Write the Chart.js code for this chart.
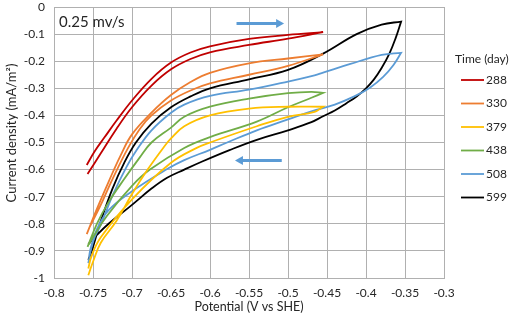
<!DOCTYPE html>
<html>
<head>
<meta charset="utf-8">
<script src="https://cdn.jsdelivr.net/npm/chart.js"></script>
<style>
  html, body { margin: 0; padding: 0; background: #fff; }
  #wrap { width: 512px; height: 315px; }
</style>
</head>
<body>
<div id="wrap"><canvas id="cv" width="512" height="315"></canvas></div>
<script>
// Time in days, one CV loop per series (upper branch left->vertex, then lower branch back)
const days = ['288', '330', '379', '438', '508', '599'];
const colors = ['#C00000', '#ED7D31', '#FFC000', '#70AD47', '#5B9BD5', '#000000'];

// potential (V vs SHE) and current density (mA/m2)
// the switching vertex is listed twice so the tip stays sharp
const e288 = [-0.758, -0.748, -0.735, -0.720, -0.700, -0.675, -0.650, -0.625, -0.600, -0.550, -0.500, -0.455,
              -0.455, -0.500, -0.550, -0.600, -0.625, -0.650, -0.675, -0.700, -0.720, -0.740, -0.757];
const j288 = [-0.583, -0.533, -0.480, -0.420, -0.345, -0.265, -0.205, -0.168, -0.145, -0.118, -0.103, -0.093,
              -0.093, -0.117, -0.140, -0.167, -0.192, -0.230, -0.290, -0.370, -0.450, -0.540, -0.616];

const e330 = [-0.758, -0.745, -0.730, -0.715, -0.700, -0.675, -0.650, -0.625, -0.600, -0.550, -0.500, -0.455,
              -0.455, -0.500, -0.550, -0.600, -0.625, -0.650, -0.675, -0.690, -0.705, -0.725, -0.740, -0.754];
const j330 = [-0.838, -0.745, -0.645, -0.550, -0.470, -0.390, -0.325, -0.277, -0.243, -0.208, -0.190, -0.175,
              -0.175, -0.217, -0.250, -0.282, -0.308, -0.345, -0.400, -0.450, -0.520, -0.635, -0.730, -0.810];

const e379 = [-0.756, -0.750, -0.740, -0.720, -0.700, -0.680, -0.660, -0.650, -0.633, -0.600, -0.550, -0.500, -0.455,
              -0.455, -0.466, -0.500, -0.540, -0.600, -0.617, -0.650, -0.700, -0.740, -0.752, -0.756];
const j379 = [-0.990, -0.940, -0.870, -0.790, -0.690, -0.600, -0.520, -0.485, -0.440, -0.400, -0.375, -0.368, -0.368,
              -0.368, -0.387, -0.405, -0.440, -0.500, -0.520, -0.575, -0.710, -0.850, -0.920, -0.965];

const e438 = [-0.757, -0.745, -0.730, -0.710, -0.690, -0.675, -0.650, -0.633, -0.600, -0.550, -0.500, -0.470, -0.455,
              -0.455, -0.470, -0.500, -0.540, -0.600, -0.633, -0.677, -0.700, -0.732, -0.750, -0.755];
const j438 = [-0.885, -0.800, -0.720, -0.635, -0.555, -0.500, -0.445, -0.405, -0.368, -0.338, -0.318, -0.313, -0.317,
              -0.317, -0.335, -0.370, -0.423, -0.480, -0.520, -0.600, -0.660, -0.770, -0.850, -0.875];

const e508 = [-0.756, -0.753, -0.748, -0.741, -0.724, -0.707, -0.694, -0.675, -0.650, -0.633, -0.600, -0.550, -0.500, -0.466, -0.455, -0.420, -0.380, -0.355,
              -0.355, -0.365, -0.378, -0.395, -0.415, -0.440, -0.470, -0.500, -0.540, -0.578, -0.600, -0.633, -0.655, -0.700, -0.730, -0.745, -0.753, -0.755];
const j508 = [-0.945, -0.900, -0.850, -0.810, -0.690, -0.590, -0.528, -0.455, -0.390, -0.360, -0.328, -0.305, -0.275, -0.252, -0.242, -0.210, -0.177, -0.169,
              -0.169, -0.215, -0.258, -0.298, -0.330, -0.360, -0.385, -0.415, -0.455, -0.500, -0.527, -0.565, -0.598, -0.680, -0.750, -0.820, -0.890, -0.920];

const e599 = [-0.756, -0.751, -0.740, -0.725, -0.710, -0.695, -0.675, -0.650, -0.625, -0.600, -0.550, -0.500, -0.455, -0.412, -0.380, -0.355,
              -0.355, -0.362, -0.370, -0.380, -0.390, -0.400, -0.412, -0.425, -0.440, -0.455, -0.470, -0.500, -0.540, -0.575, -0.610, -0.633, -0.655, -0.675, -0.700, -0.730, -0.748, -0.756];
const j599 = [-0.933, -0.895, -0.790, -0.670, -0.575, -0.500, -0.430, -0.370, -0.330, -0.300, -0.267, -0.232, -0.172, -0.100, -0.065, -0.054,
              -0.054, -0.115, -0.172, -0.225, -0.268, -0.300, -0.330, -0.355, -0.382, -0.403, -0.425, -0.455, -0.490, -0.528, -0.570, -0.600, -0.630, -0.670, -0.730, -0.800, -0.850, -0.875];

const potentials = [e288, e330, e379, e438, e508, e599];
const currents = [j288, j330, j379, j438, j508, j599];

const xTicks = [-0.8, -0.75, -0.7, -0.65, -0.6, -0.55, -0.5, -0.45, -0.4, -0.35, -0.3];
const yTicks = [-1, -0.9, -0.8, -0.7, -0.6, -0.5, -0.4, -0.3, -0.2, -0.1, 0];

const FONT = 'Lato, "Open Sans", sans-serif';
const TXT = '#262626';
const GRID = '#b0b0b0';
const ARROW = '#5B9BD5';

const datasets = days.map((d, k) => ({
  label: d,
  data: potentials[k].map((x, i) => ({ x: x, y: currents[k][i] })),
  borderColor: colors[k],
  backgroundColor: colors[k],
  borderWidth: 1.8,
  showLine: true,
  pointRadius: 0,
  tension: 0.4,
  fill: false
}));

function fmt(v) { return String(+Number(v).toFixed(2)); }

// scan-rate note, direction arrows, y title and the legend
const extras = {
  id: 'extras',
  afterDatasetsDraw(chart) {
    const { ctx, chartArea: ca, scales: { x, y } } = chart;
    ctx.save();
    ctx.fillStyle = TXT;
    ctx.font = '15px ' + FONT;
    ctx.textBaseline = 'middle';
    ctx.textAlign = 'left';
    ctx.fillText('0.25 mv/s', ca.left + 5, ca.top + 15);

    function arrow(x0, x1, yv) {
      const px0 = x.getPixelForValue(x0), px1 = x.getPixelForValue(x1), py = y.getPixelForValue(yv);
      const dir = px1 > px0 ? 1 : -1;
      ctx.strokeStyle = ARROW;
      ctx.fillStyle = ARROW;
      ctx.lineWidth = 3;
      ctx.beginPath();
      ctx.moveTo(px0, py);
      ctx.lineTo(px1 - dir * 6, py);
      ctx.stroke();
      ctx.beginPath();
      ctx.moveTo(px1, py);
      ctx.lineTo(px1 - dir * 8, py - 4.5);
      ctx.lineTo(px1 - dir * 8, py + 4.5);
      ctx.closePath();
      ctx.fill();
    }
    arrow(-0.566, -0.505, -0.061);
    arrow(-0.508, -0.568, -0.566);

    // y axis title, a little above the plot centre as in the original
    ctx.save();
    ctx.translate(12, 133);
    ctx.rotate(-Math.PI / 2);
    ctx.textAlign = 'center';
    ctx.fillStyle = TXT;
    ctx.font = '13px ' + FONT;
    ctx.fillText('Current density (mA/m²)', 0, 0);
    ctx.restore();

    // legend
    const lx = ca.right + 11;
    ctx.fillStyle = TXT;
    ctx.font = '12px ' + FONT;
    ctx.fillText('Time (day)', lx, 59);
    chart.data.datasets.forEach((ds, i) => {
      const yy = 80 + i * 23.5;
      ctx.strokeStyle = ds.borderColor;
      ctx.lineWidth = 1.8;
      ctx.beginPath();
      ctx.moveTo(lx + 6, yy);
      ctx.lineTo(lx + 29, yy);
      ctx.stroke();
      ctx.fillStyle = TXT;
      ctx.fillText(ds.label, lx + 31, yy);
    });
    ctx.restore();
  }
};

new Chart(document.getElementById('cv'), {
  type: 'scatter',
  data: { datasets: datasets },
  options: {
    responsive: false,
    animation: false,
    devicePixelRatio: 1,
    layout: { padding: { top: 0, right: 68, left: 0, bottom: 0 } },
    plugins: { legend: { display: false }, tooltip: { enabled: false } },
    scales: {
      x: {
        type: 'linear',
        min: -0.8, max: -0.3,
        afterBuildTicks: (s) => { s.ticks = xTicks.map(v => ({ value: v })); },
        afterFit: (s) => { s.height = 37; },
        grid: { color: GRID, lineWidth: 1, drawTicks: false },
        border: { color: GRID },
        ticks: { color: TXT, font: { family: FONT, size: 12 }, padding: 8, maxRotation: 0, autoSkip: false, callback: fmt },
        title: { display: true, text: 'Potential (V vs SHE)', color: TXT, font: { family: FONT, size: 12.5 }, padding: { top: 0, bottom: 1 } }
      },
      y: {
        type: 'linear',
        min: -1, max: 0,
        afterBuildTicks: (s) => { s.ticks = yTicks.map(v => ({ value: v })); },
        afterFit: (s) => { s.width = 54; s.paddingTop = 7; s.paddingBottom = 7; },
        grid: { color: GRID, lineWidth: 1, drawTicks: false },
        border: { color: GRID },
        ticks: { color: TXT, font: { family: FONT, size: 12 }, padding: 9, autoSkip: false, callback: fmt }
      }
    }
  },
  plugins: [extras]
});
</script>
</body>
</html>
